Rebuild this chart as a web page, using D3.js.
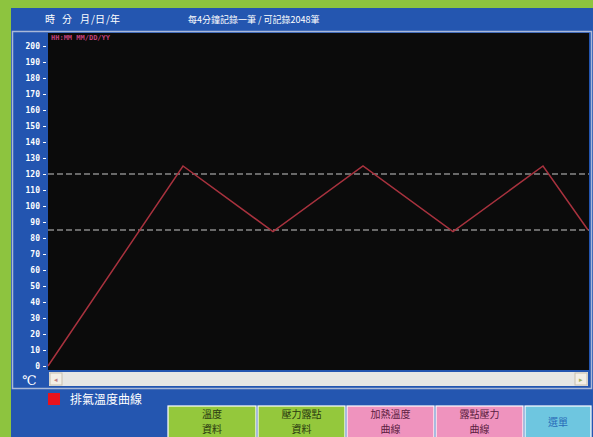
<!DOCTYPE html>
<meta charset="utf-8">
<style>
body { margin: 0; background: #8dc43f; }
svg { display: block; }
.hdr { fill: #fff; font: 10px "Noto Sans CJK TC", sans-serif; }
.yax text { fill: #fff; font: bold 8px "DejaVu Sans Mono", monospace; }
.yax line { stroke: #fff; }
.yax path { display: none; }
.btn text { font: 10px "Noto Sans CJK TC", sans-serif; text-anchor: middle; }
</style>
<svg id="pantalla" width="593" height="437"></svg>
<script src="https://d3js.org/d3.v7.min.js"></script>
<script>

// minutos desde inicio / temperatura de escape
var tiempo = [0, 12, 20, 28, 36, 44, 48];
var temperatura = [0, 125, 84, 125, 84, 125, 85];
var limites = [120, 85];
var yTicks = [0, 10, 20, 30, 40, 50, 60, 70, 80, 90, 100, 110, 120, 130, 140, 150, 160, 170, 180, 190, 200];

var botones = ["溫度|資料", "壓力露點|資料", "加熱溫度|曲線", "露點壓力|曲線", "選單"];
var colBotones = ["#94c83c", "#94c83c", "#ef93be", "#ef93be", "#6ec6e0"];
var colTexto = ["#2a3a10", "#2a3a10", "#5a2040", "#5a2040", "#2a6cb8"];

var svg = d3.select("#pantalla");

// panel azul
svg.append("rect").attr("x", 11).attr("y", 8).attr("width", 582).attr("height", 429).attr("fill", "#2456b0");
svg.append("rect").attr("x", 12.5).attr("y", 31.5).attr("width", 579).attr("height", 357)
    .attr("fill", "#2355b0").attr("stroke", "#a9b8d8").attr("stroke-width", 1.5);

// cabecera
var cab = [["時", 45], ["分", 62], ["月", 80], ["/", 91], ["日", 95], ["/", 106], ["年", 110]];
svg.selectAll(".cab").data(cab).enter().append("text").attr("class", "hdr")
    .attr("x", function(d) { return d[1]; }).attr("y", 23).text(function(d) { return d[0]; });
svg.append("text").attr("class", "hdr").attr("x", 188).attr("y", 23).style("font-size", "9px").text("每4分鐘記錄一筆 / 可記錄2048筆");

var x = d3.scaleLinear().domain([0, 48]).range([48, 588]);
var y = d3.scaleLinear().domain([0, 200]).range([366, 46]);

svg.append("rect").attr("x", 48).attr("y", 33).attr("width", 541).attr("height", 337).attr("fill", "#0b0b0b");

svg.append("text").attr("x", 51).attr("y", 40).attr("fill", "#c0407a")
    .style("font", "bold 7px 'DejaVu Sans Mono', monospace").text("HH:MM MM/DD/YY");

svg.append("g").attr("class", "yax")
    .attr("transform", "translate(46,0)")
    .call(d3.axisLeft(y).tickValues(yTicks).tickSize(3).tickPadding(3));

svg.append("text").attr("x", 22).attr("y", 385).attr("fill", "#fff")
    .style("font", "13px 'DejaVu Serif', serif").text("℃");

svg.selectAll(".lim").data(limites).enter().append("line")
    .attr("x1", 48).attr("x2", 589)
    .attr("y1", function(d) { return y(d); }).attr("y2", function(d) { return y(d); })
    .attr("stroke", "#c8c8c8").attr("stroke-width", 1).attr("stroke-dasharray", "6,3");

var linea = d3.line()
    .x(function(d, i) { return x(tiempo[i]); })
    .y(function(d) { return y(d); });

svg.append("path").datum(temperatura)
    .attr("d", linea).attr("fill", "none")
    .attr("stroke", "#a8323e").attr("stroke-width", 1.5);

// barra de desplazamiento
svg.append("rect").attr("x", 49).attr("y", 372).attr("width", 539).attr("height", 14).attr("fill", "#e6e6e4");
svg.append("rect").attr("x", 50).attr("y", 373).attr("width", 12).attr("height", 12).attr("fill", "#f2eee6").attr("stroke", "#c8c0b0");
svg.append("rect").attr("x", 575).attr("y", 373).attr("width", 12).attr("height", 12).attr("fill", "#f2eee6").attr("stroke", "#c8c0b0");
svg.append("text").attr("x", 56).attr("y", 382).attr("fill", "#c08080").style("font", "7px sans-serif").attr("text-anchor", "middle").text("◂");
svg.append("text").attr("x", 581).attr("y", 382).attr("fill", "#a0b060").style("font", "7px sans-serif").attr("text-anchor", "middle").text("▸");

// leyenda
svg.append("rect").attr("x", 48).attr("y", 393).attr("width", 12).attr("height", 12).attr("fill", "#e8121c");
svg.append("text").attr("class", "hdr").attr("x", 70).attr("y", 404).attr("fill", "#dde4f2").style("font-size", "12px").text("排氣溫度曲線");

// botones
var bx = [168, 258, 347, 436, 525];
var bw = [88, 87, 87, 87, 66];
var btn = svg.selectAll(".btn").data(botones).enter().append("g").attr("class", "btn")
    .attr("transform", function(d, i) { return "translate(" + bx[i] + ",406)"; });

btn.append("rect").attr("width", function(d, i) { return bw[i]; }).attr("height", 34)
    .attr("fill", function(d, i) { return colBotones[i]; })
    .attr("stroke", "#ffffff").attr("stroke-width", 1.2);

btn.each(function(d, i) {
  var partes = d.split("|");
  var g = d3.select(this);
  partes.forEach(function(p, j) {
    g.append("text").attr("x", bw[i] / 2)
      .attr("y", partes.length == 1 ? 20 : 12 + j * 15)
      .attr("fill", colTexto[i]).text(p);
  });
});

</script>
